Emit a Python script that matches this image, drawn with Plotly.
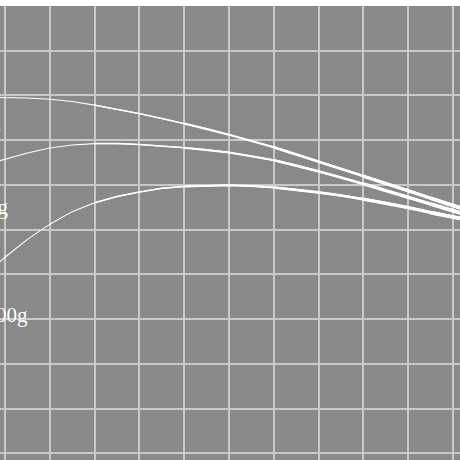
"""Tapered curves on a grey grid, cropped view with weight labels at the left edge."""

from __future__ import annotations

import plotly.graph_objects as go

# ── Data ─────────────────────────────────────────────────────────────────────
X = [-0.15, 0, 0.5, 1, 1.5, 2, 2.5, 3, 3.5, 4, 4.5, 5, 5.5, 6, 6.5, 7, 7.5, 8, 8.5, 9, 9.5, 10, 10.3]
CURVE_A = [7.95, 7.95, 7.94, 7.91, 7.86, 7.78, 7.69, 7.59, 7.48, 7.37, 7.25, 7.12,
           6.98, 6.84, 6.68, 6.52, 6.36, 6.19, 6.03, 5.87, 5.70, 5.54, 5.44]
CURVE_B = [6.53, 6.57, 6.71, 6.82, 6.89, 6.92, 6.92, 6.90, 6.87, 6.83, 6.78, 6.72,
           6.64, 6.55, 6.43, 6.30, 6.16, 6.02, 5.87, 5.72, 5.57, 5.42, 5.33]
CURVE_C = [4.25, 4.38, 4.78, 5.12, 5.40, 5.60, 5.74, 5.84, 5.92, 5.96, 5.98, 5.99,
           5.97, 5.94, 5.89, 5.83, 5.76, 5.68, 5.59, 5.49, 5.38, 5.27, 5.22]
LABELS = ["10g", "100g", "1000g"]

# ── Style ────────────────────────────────────────────────────────────────────
BG = "#898989"
GRID = "#c9c9c9"
LINE = "#ffffff"
FONT = "Liberation Serif, DejaVu Serif, serif"

# (first point index, width) — stacked pieces fake a line that thickens to the right
TAPER = [(0, 1.1), (5, 1.5), (9, 2.0), (13, 2.6), (17, 3.2), (20, 3.8)]

# label anchor (x, y) in data units, right-aligned
LABEL_POS = [(-0.045, 7.41), (0.13, 5.51), (0.56, 3.09)]


def add_tapered(fig: go.Figure, xs: list[float], ys: list[float]) -> None:
    """Draw one curve as overlapping pieces of growing width."""
    for start, width in TAPER:
        fig.add_trace(
            go.Scatter(
                x=xs[start:],
                y=ys[start:],
                mode="lines",
                line=dict(color=LINE, width=width),
                hoverinfo="skip",
                showlegend=False,
            )
        )


fig = go.Figure()
for curve in (CURVE_A, CURVE_B, CURVE_C):
    add_tapered(fig, X, curve)

for text, (ax, ay) in zip(LABELS, LABEL_POS):
    fig.add_annotation(
        x=ax,
        y=ay,
        text=text,
        showarrow=False,
        xanchor="right",
        yanchor="middle",
        font=dict(family=FONT, size=21, color=LINE),
    )

axis_common = dict(
    showgrid=True,
    gridcolor=GRID,
    gridwidth=2,
    zeroline=False,
    showticklabels=False,
    ticks="",
    showline=False,
    dtick=1,
    tick0=0,
)

fig.update_layout(
    width=460,
    height=460,
    margin=dict(l=0, r=0, t=6, b=0),
    paper_bgcolor="#ffffff",
    plot_bgcolor=BG,
    xaxis=dict(range=[-0.112, 10.156], **axis_common),
    yaxis=dict(range=[-0.15, 9.995], **axis_common),
    showlegend=False,
)

# the page body has a default 8px margin; drop it so the figure sits at the corner
fig.write_html(
    "out.html",
    config={"staticPlot": True},
    post_script="document.body.style.margin='0';",
)
